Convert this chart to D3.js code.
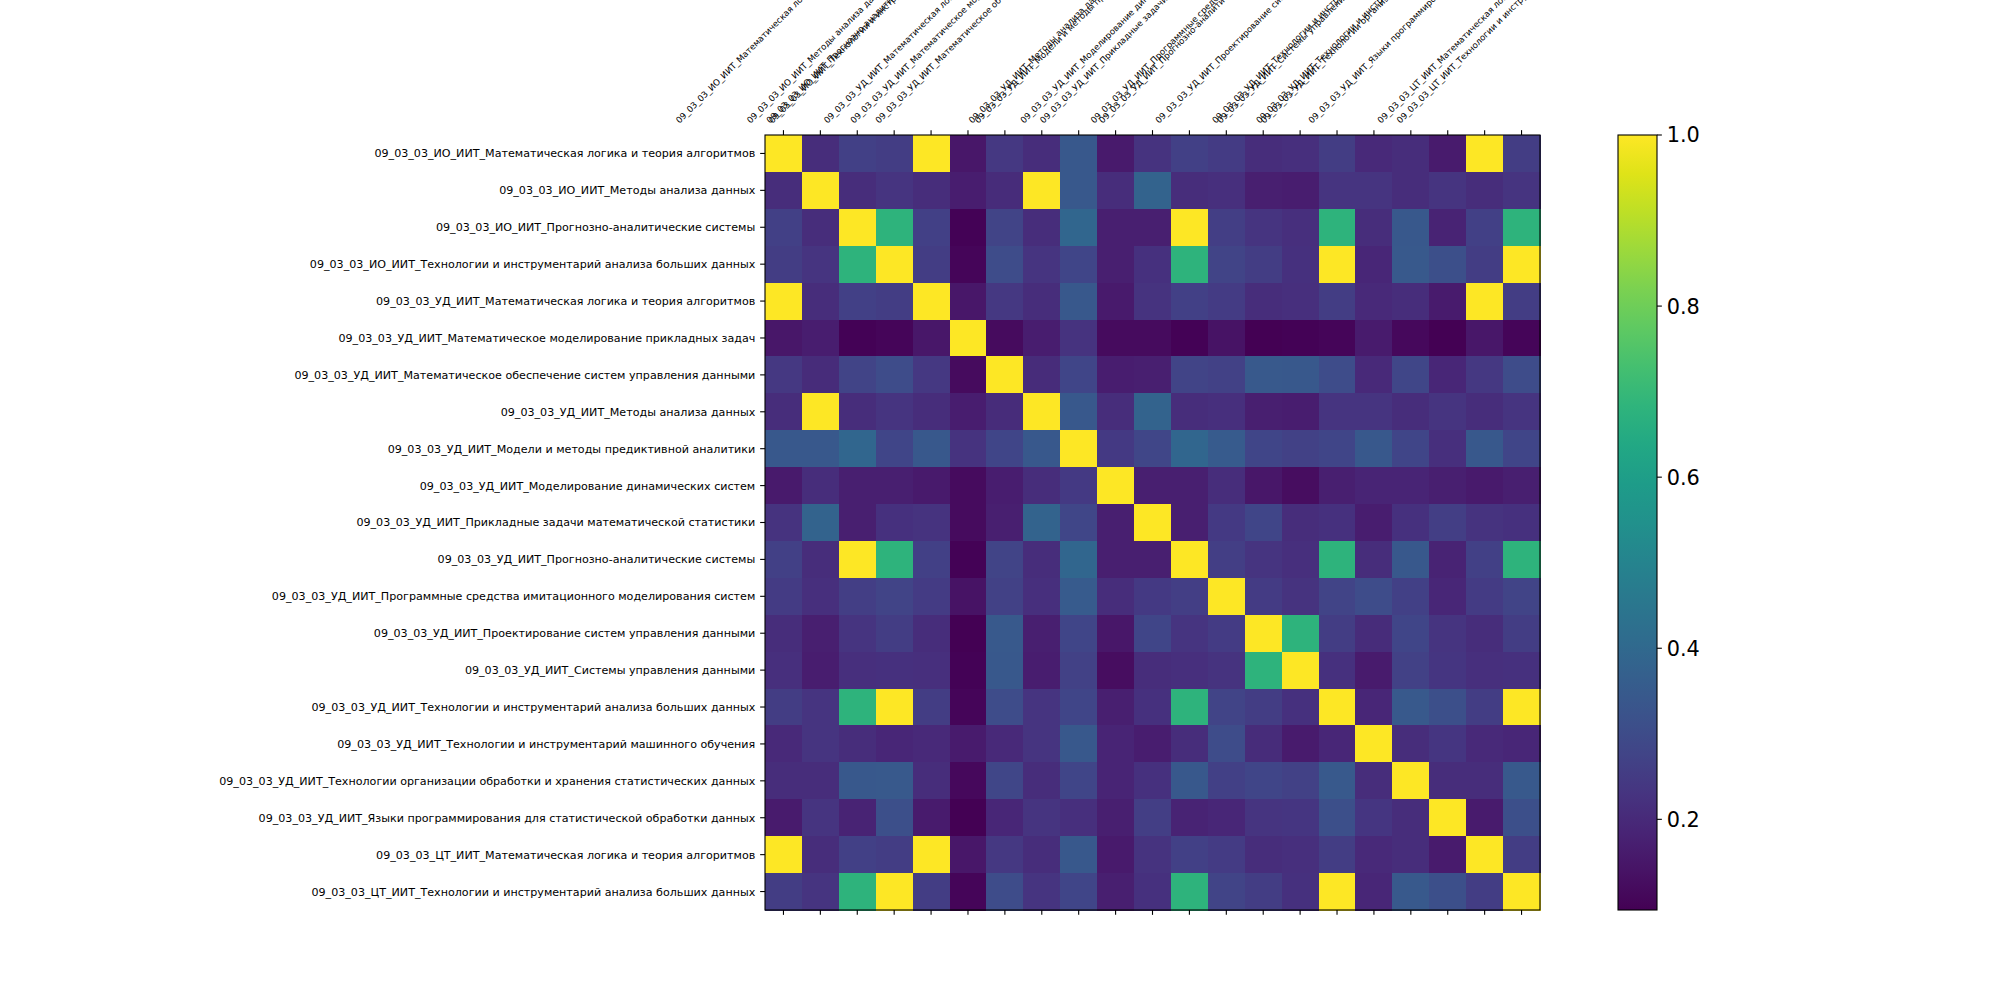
<!DOCTYPE html>
<html>
<head>
<meta charset="utf-8">
<script src="https://cdn.jsdelivr.net/npm/d3@7"></script>
<style>
  body { margin: 0; background: #fff; }
  text { font-family: "DejaVu Sans", sans-serif; fill: #000; }
</style>
</head>
<body>
<div id="chart"></div>
<script>
// course names (same list on both axes)
const courses = [
    "09_03_03_ИО_ИИТ_Математическая логика и теория алгоритмов",
    "09_03_03_ИО_ИИТ_Методы анализа данных",
    "09_03_03_ИО_ИИТ_Прогнозно-аналитические системы",
    "09_03_03_ИО_ИИТ_Технологии и инструментарий анализа больших данных",
    "09_03_03_УД_ИИТ_Математическая логика и теория алгоритмов",
    "09_03_03_УД_ИИТ_Математическое моделирование прикладных задач",
    "09_03_03_УД_ИИТ_Математическое обеспечение систем управления данными",
    "09_03_03_УД_ИИТ_Методы анализа данных",
    "09_03_03_УД_ИИТ_Модели и методы предиктивной аналитики",
    "09_03_03_УД_ИИТ_Моделирование динамических систем",
    "09_03_03_УД_ИИТ_Прикладные задачи математической статистики",
    "09_03_03_УД_ИИТ_Прогнозно-аналитические системы",
    "09_03_03_УД_ИИТ_Программные средства имитационного моделирования систем",
    "09_03_03_УД_ИИТ_Проектирование систем управления данными",
    "09_03_03_УД_ИИТ_Системы управления данными",
    "09_03_03_УД_ИИТ_Технологии и инструментарий анализа больших данных",
    "09_03_03_УД_ИИТ_Технологии и инструментарий машинного обучения",
    "09_03_03_УД_ИИТ_Технологии организации обработки и хранения статистических данных",
    "09_03_03_УД_ИИТ_Языки программирования для статистической обработки данных",
    "09_03_03_ЦТ_ИИТ_Математическая логика и теория алгоритмов",
    "09_03_03_ЦТ_ИИТ_Технологии и инструментарий анализа больших данных"
];

// similarity matrix, row by row
const similarity = [
    [1, .21, .265, .255, 1, .15, .24, .21, .34, .155, .225, .265, .25, .21, .215, .255, .20, .21, .16, 1, .255],
    [.21, 1, .21, .23, .21, .165, .205, 1, .34, .21, .38, .21, .215, .17, .165, .23, .23, .21, .23, .21, .23],
    [.265, .21, 1, .68, .265, .10, .275, .21, .39, .17, .17, 1, .26, .23, .215, .68, .21, .34, .18, .265, .68],
    [.255, .23, .68, 1, .255, .105, .30, .23, .28, .17, .22, .68, .275, .255, .22, 1, .19, .345, .31, .255, 1],
    [1, .21, .265, .255, 1, .15, .24, .21, .34, .155, .225, .265, .25, .21, .215, .255, .20, .21, .16, 1, .255],
    [.15, .165, .10, .105, .15, 1, .12, .165, .225, .12, .12, .10, .14, .095, .10, .105, .16, .115, .094, .15, .105],
    [.24, .205, .275, .30, .24, .12, 1, .205, .28, .165, .17, .275, .27, .345, .34, .30, .20, .285, .19, .24, .30],
    [.21, 1, .21, .23, .21, .165, .205, 1, .34, .21, .38, .21, .215, .17, .165, .23, .23, .21, .23, .21, .23],
    [.34, .34, .39, .28, .34, .225, .28, .34, 1, .245, .285, .39, .35, .28, .27, .28, .34, .28, .215, .34, .28],
    [.155, .21, .17, .17, .155, .12, .165, .21, .245, 1, .17, .17, .21, .15, .125, .17, .185, .185, .17, .155, .17],
    [.225, .38, .17, .22, .225, .12, .17, .38, .285, .17, 1, .17, .245, .28, .21, .22, .165, .22, .26, .225, .22],
    [.265, .21, 1, .68, .265, .10, .275, .21, .39, .17, .17, 1, .26, .23, .215, .68, .21, .34, .18, .265, .68],
    [.25, .215, .26, .275, .25, .14, .27, .215, .35, .21, .245, .26, 1, .25, .225, .275, .30, .265, .19, .25, .275],
    [.21, .17, .23, .255, .21, .095, .345, .17, .28, .15, .28, .23, .25, 1, .68, .255, .205, .28, .23, .21, .255],
    [.215, .165, .215, .22, .215, .10, .34, .165, .27, .125, .21, .215, .225, .68, 1, .22, .16, .27, .235, .215, .22],
    [.255, .23, .68, 1, .255, .105, .30, .23, .28, .17, .22, .68, .275, .255, .22, 1, .19, .345, .31, .255, 1],
    [.20, .23, .21, .19, .20, .16, .20, .23, .34, .185, .165, .21, .30, .205, .16, .19, 1, .21, .235, .20, .19],
    [.21, .21, .34, .345, .21, .115, .285, .21, .28, .185, .22, .34, .265, .28, .27, .345, .21, 1, .21, .21, .345],
    [.16, .23, .18, .31, .16, .094, .19, .23, .215, .17, .26, .18, .19, .23, .235, .31, .235, .21, 1, .16, .31],
    [1, .21, .265, .255, 1, .15, .24, .21, .34, .155, .225, .265, .25, .21, .215, .255, .20, .21, .16, 1, .255],
    [.255, .23, .68, 1, .255, .105, .30, .23, .28, .17, .22, .68, .275, .255, .22, 1, .19, .345, .31, .255, 1]
];

const colorbarTicks = [0.2, 0.4, 0.6, 0.8, 1.0];

const W = 2000, H = 1000;
const TICK = 4.86, PAD = 4.86;

function heatmap(el) {
    let svg = d3.select(el).append("svg")
        .attr("width", W)
        .attr("height", H);

    let left = 765, right = 1540, top = 135, bottom = 910;
    let idx = d3.range(courses.length);

    let x = d3.scaleBand().domain(idx).range([left, right]);
    let y = d3.scaleBand().domain(idx).range([top, bottom]);

    let vmin = d3.min(similarity, r => d3.min(r));
    let vmax = d3.max(similarity, r => d3.max(r));
    let color = d3.scaleSequential(d3.interpolateViridis).domain([vmin, vmax]);

    let cells = [];
    similarity.forEach((row, i) => row.forEach((v, j) => cells.push({ i, j, v })));

    svg.append("g")
        .selectAll("rect")
        .data(cells)
        .join("rect")
        .attr("x", d => x(d.j))
        .attr("y", d => y(d.i))
        .attr("width", x.bandwidth() + 0.5)
        .attr("height", y.bandwidth() + 0.5)
        .attr("shape-rendering", "crispEdges")
        .attr("fill", d => color(d.v));

    // frame
    svg.append("rect")
        .attr("x", left)
        .attr("y", top)
        .attr("width", right - left)
        .attr("height", bottom - top)
        .attr("fill", "none")
        .attr("stroke", "#000")
        .attr("stroke-width", 1.1);

    let ticks = svg.append("g")
        .attr("stroke", "#000")
        .attr("stroke-width", 1.1);
    idx.forEach(k => {
        let cx = x(k) + x.bandwidth() / 2;
        let cy = y(k) + y.bandwidth() / 2;
        ticks.append("line").attr("x1", cx).attr("x2", cx).attr("y1", top).attr("y2", top - TICK);
        ticks.append("line").attr("x1", cx).attr("x2", cx).attr("y1", bottom).attr("y2", bottom + TICK);
        ticks.append("line").attr("x1", left).attr("x2", left - TICK).attr("y1", cy).attr("y2", cy);
    });

    // row labels
    svg.append("g")
        .selectAll("text")
        .data(courses)
        .join("text")
        .attr("x", left - TICK - PAD)
        .attr("y", (d, i) => y(i) + y.bandwidth() / 2)
        .attr("dy", "0.36em")
        .attr("text-anchor", "end")
        .style("font-size", "11.11px")
        .text(d => d);

    // column labels on top, rotated 45 and centred like matplotlib does
    let fs = 8.6;
    let r2 = Math.SQRT2;
    let colLabels = svg.append("g");
    courses.forEach((name, k) => {
        let t = colLabels.append("text")
            .style("font-size", fs + "px")
            .attr("text-anchor", "start")
            .text(name);
        let L = t.node().getComputedTextLength();
        let h = 1.164 * fs;
        let d = 0.236 * fs;
        let cx = x(k) + x.bandwidth() / 2 - (L - h) / (2 * r2);
        let cy = top - TICK - PAD;
        let bx = cx - d / r2 - 2;
        let by = cy - d / r2;
        t.attr("transform", `translate(${bx},${by}) rotate(-45)`);
    });

    // colorbar
    let cbL = 1618, cbR = 1657;
    let cy = d3.scaleLinear().domain([vmin, vmax]).range([bottom, top]);

    let defs = svg.append("defs");
    let grad = defs.append("linearGradient")
        .attr("id", "viridis")
        .attr("x1", 0).attr("x2", 0)
        .attr("y1", 1).attr("y2", 0);
    d3.range(0, 1.0001, 0.05).forEach(t => {
        grad.append("stop")
            .attr("offset", t)
            .attr("stop-color", d3.interpolateViridis(t));
    });

    svg.append("rect")
        .attr("x", cbL)
        .attr("y", top)
        .attr("width", cbR - cbL)
        .attr("height", bottom - top)
        .attr("fill", "url(#viridis)")
        .attr("stroke", "#000")
        .attr("stroke-width", 1.1);

    let cbAxis = svg.append("g");
    colorbarTicks.forEach(v => {
        cbAxis.append("line")
            .attr("x1", cbR).attr("x2", cbR + TICK)
            .attr("y1", cy(v)).attr("y2", cy(v))
            .attr("stroke", "#000")
            .attr("stroke-width", 1.1);
        cbAxis.append("text")
            .attr("x", cbR + TICK + PAD)
            .attr("y", cy(v))
            .attr("dy", "0.36em")
            .style("font-size", "20.83px")
            .text(v.toFixed(1));
    });
}

heatmap(document.getElementById("chart"));
</script>
</body>
</html>
